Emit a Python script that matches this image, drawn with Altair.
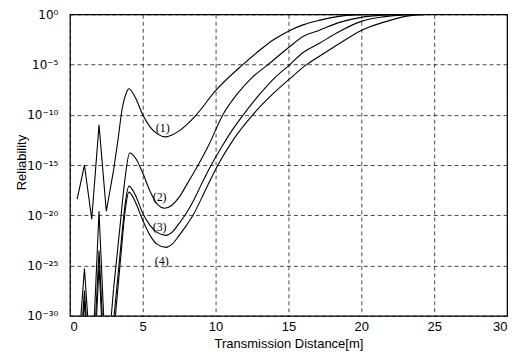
import altair as alt
import pandas as pd

# Curve data: transmission distance [m] and log10(reliability)
x1 = [0.5, 1.0, 1.5, 2.0, 2.5, 3.0, 3.3, 3.6, 3.85, 4.05, 4.5, 5.0, 5.5, 6.0, 6.6, 7.0, 7.5, 8.0, 8.68,
      10.0, 11.87, 13.0, 14.0, 15.1, 16.0, 17.1, 18.7, 20.0, 21.5, 25.0, 30.0]
y1 = [-18.4, -15.0, -20.4, -11.0, -19.6, -15.5, -12.5, -9.3, -7.9, -7.4, -8.3, -10.0, -11.2, -11.9, -12.2, -12.0, -11.6, -11.0, -10.0,
      -7.6, -5.0, -3.6, -2.5, -1.6, -1.05, -0.6, -0.15, -0.03, 0.0, 0.0, 0.0]

x2 = [0.5, 1.0, 1.5, 2.0, 2.5, 3.0, 3.42, 3.77, 4.1, 4.5, 5.0, 5.5, 6.0, 6.5, 7.0, 7.5, 8.0, 8.8, 9.5,
      10.5, 11.5, 12.5, 13.6, 15.1, 16.0, 17.1, 18.5, 20.0, 21.5, 23.0, 30.0]
y2 = [-35.0, -25.3, -36.0, -19.6, -36.0, -27.3, -21.4, -16.5, -13.8, -14.3, -15.8, -17.6, -18.9, -19.3, -19.0, -18.2, -17.0, -15.0, -13.1,
      -10.0, -7.9, -6.3, -5.0, -3.2, -2.2, -1.6, -0.8, -0.3, -0.08, 0.0, 0.0]

x3 = [0.5, 1.0, 1.5, 2.0, 2.5, 3.0, 3.5, 3.8, 4.05, 4.5, 5.0, 5.5, 6.0, 6.6, 7.0, 7.5, 7.9, 8.5, 9.0,
      9.7, 10.5, 11.2, 11.9, 13.0, 14.0, 15.1, 16.0, 17.1, 18.5, 20.0, 21.5, 23.0, 24.5, 30.0]
y3 = [-38.0, -27.5, -38.0, -23.5, -38.0, -30.5, -23.0, -18.8, -17.1, -18.0, -19.8, -21.0, -21.7, -22.0, -21.7, -20.8, -20.0, -18.5, -17.0,
      -15.0, -13.0, -11.4, -10.0, -8.0, -6.4, -5.0, -3.8, -2.9, -1.7, -0.7, -0.25, -0.05, 0.0, 0.0]

x4 = [0.5, 1.0, 1.5, 2.0, 2.5, 3.0, 3.5, 3.8, 4.05, 4.5, 5.0, 5.5, 6.0, 6.6, 7.0, 7.5, 8.0, 8.45, 9.3,
      10.16, 11.3, 12.55, 13.8, 15.1, 16.2, 17.1, 18.5, 20.0, 21.5, 23.0, 24.5, 30.0]
y4 = [-40.0, -28.5, -40.0, -25.0, -40.0, -32.0, -24.0, -19.5, -17.7, -18.7, -20.5, -22.0, -22.9, -23.2, -22.9, -22.0, -21.0, -20.0, -17.5,
      -15.0, -12.3, -10.0, -8.1, -6.4, -5.06, -4.2, -2.9, -1.6, -0.8, -0.2, 0.0, 0.0]

curve_names = ["1", "2", "3", "4"]

# Curve annotations
label_text = ["(1)", "(2)", "(3)", "(4)"]
label_x = [6.37, 6.16, 6.16, 6.3]
label_ylog = [-11.3, -18.2, -21.2, -24.6]

# Axis ticks
x_ticks = [0, 5, 10, 15, 20, 25, 30]
y_tick_exps = [0, -5, -10, -15, -20, -25, -30]
y_tick_labels = ["10⁰", "10⁻⁵", "10⁻¹⁰", "10⁻¹⁵", "10⁻²⁰", "10⁻²⁵", "10⁻³⁰"]

rows = []
for name, xs, ys in zip(curve_names, [x1, x2, x3, x4], [y1, y2, y3, y4]):
    for i, (xv, yv) in enumerate(zip(xs, ys)):
        rows.append({"curve": name, "i": i, "d": xv, "r": 10.0 ** yv})
df = pd.DataFrame(rows)

lab_df = pd.DataFrame({"t": label_text, "d": label_x, "r": [10.0 ** v for v in label_ylog]})

y_values = [10.0 ** e for e in y_tick_exps]
expr = ""
for k, (e, lab) in enumerate(zip(y_tick_exps, y_tick_labels)):
    if k < len(y_tick_exps) - 1:
        expr += f"datum.value > {10.0 ** (e - 2.5):.3e} ? '{lab}' : "
    else:
        expr += f"'{lab}'"

xscale = alt.Scale(domain=[0, 30], nice=False, zero=False)
yscale = alt.Scale(type="log", domain=[1e-30, 1], nice=False)

xenc = alt.X("d:Q", scale=xscale,
             axis=alt.Axis(values=x_ticks, title="Transmission Distance[m]", format="d",
                           titleY=22, titleBaseline="top"))
yenc = alt.Y("r:Q", scale=yscale,
             axis=alt.Axis(values=y_values, title="Reliability", labelExpr=expr,
                           labelFont="DejaVu Sans", labelFontSize=12,
                           titleX=-48, titleY=148, titleAngle=270, titleBaseline="middle",
                           titleAlign="center"))

base = alt.Chart(df).encode(x=xenc, y=yenc, detail="curve:N", order="i:Q")

# sharp oscillating part (linear) and smooth part (monotone), joined at d = 3
lines_left = base.transform_filter(alt.datum.d <= 3.0).mark_line(
    clip=True, color="black", strokeWidth=1.1)
lines_right = base.transform_filter(alt.datum.d >= 3.0).mark_line(
    clip=True, color="black", strokeWidth=1.1, interpolate="monotone")

labels = alt.Chart(lab_df).mark_text(font="Liberation Serif", fontSize=12, color="black").encode(
    x=alt.X("d:Q", scale=xscale),
    y=alt.Y("r:Q", scale=yscale),
    text="t:N",
)

chart = alt.layer(lines_left, lines_right, labels).properties(
    width=438, height=302,
    padding={"left": 62, "top": 6, "right": 10, "bottom": 40},
    autosize=alt.AutoSizeParams(type="none"),
    background="white",
).configure_view(
    stroke="black", strokeWidth=1.2,
).configure_axis(
    domain=False, ticks=False,
    grid=True, gridColor="black", gridDash=[4, 3], gridWidth=0.8, gridOpacity=0.9,
    labelFont="Liberation Sans", labelFontSize=13, labelColor="black",
    titleFont="Liberation Sans", titleFontSize=13, titleColor="black", titleFontWeight="normal",
).configure_axisX(
    labelPadding=5,
).configure_axisY(
    labelPadding=12,
)

chart.save("out.html", embed_options={"renderer": "svg", "actions": False})
